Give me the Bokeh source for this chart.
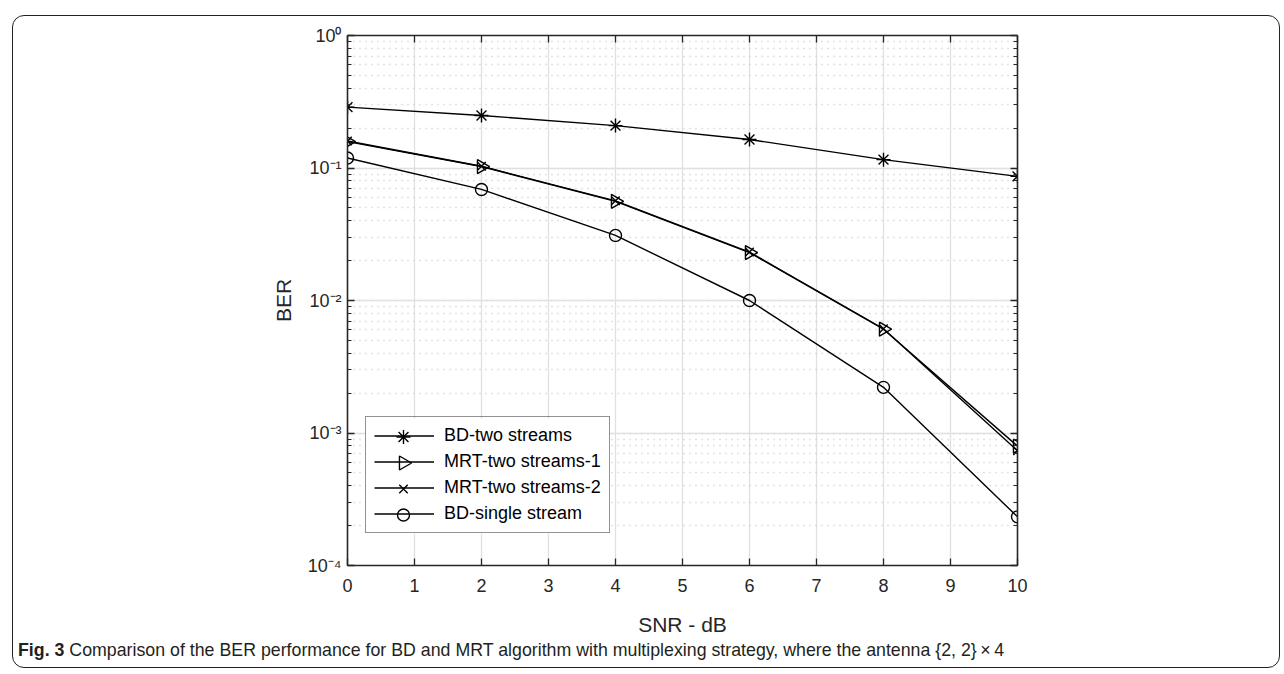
import math
from bokeh.plotting import figure
from bokeh.layouts import column
from bokeh.models import (Range1d, LinearAxis, LogAxis, SingleIntervalTicker, LogTicker,
                          CustomJSTickFormatter, Legend, LegendItem, Div, LinearScale)
from bokeh.embed import file_html
from bokeh.resources import INLINE

snr = [0, 2, 4, 6, 8, 10]
bd_two = [0.288, 0.249, 0.209, 0.164, 0.1156, 0.0865]
mrt_two_1 = [0.158, 0.1026, 0.056, 0.0230, 0.00607, 0.000796]
mrt_two_2 = [0.160, 0.1030, 0.0565, 0.0232, 0.00612, 0.000734]
bd_single = [0.119, 0.0689, 0.031, 0.0100, 0.00221, 0.000233]

names = ["BD-two streams", "MRT-two streams-1", "MRT-two streams-2", "BD-single stream"]
caption_bold = "Fig. 3"
caption_text = "Comparison of the BER performance for BD and MRT algorithm with multiplexing strategy, where the antenna {2, 2}&thinsp;&times;&thinsp;4"

FONT = "Liberation Sans"
AX = "#262626"

W, H = 1284, 674
FIG_H = 642
L, R, T, B = 347, 1017, 35, 565

p = figure(width=W, height=FIG_H, output_backend="svg", toolbar_location=None,
           x_range=Range1d(0, 10), y_range=Range1d(1e-4, 1), y_axis_type="log",
           min_border_left=L, min_border_right=W - R, min_border_top=T,
           min_border_bottom=FIG_H - B,
           background_fill_color="white", border_fill_color="white", x_axis_location=None,
           y_axis_location=None)
p.outline_line_color = None
# pixel-like helper ranges for the legend background and sample markers
p.extra_x_ranges = {"px": Range1d(0, R - L)}
p.extra_y_ranges = {"py": Range1d(0, B - T)}
p.extra_x_scales = {"px": LinearScale()}
p.extra_y_scales = {"py": LinearScale()}

sup = CustomJSTickFormatter(code="""
const e = Math.round(Math.log10(tick));
const m = {'-':'\u207b','0':'\u2070','1':'\u00b9','2':'\u00b2','3':'\u00b3','4':'\u2074','5':'\u2075'};
return '10' + String(e).split('').map(c => m[c]).join('');
""")

def style_axis(ax, labels=True):
    ax.axis_line_color = AX
    ax.axis_line_width = 1.6
    ax.major_tick_line_color = AX
    ax.minor_tick_line_color = AX
    ax.major_tick_line_width = 1.3
    ax.minor_tick_line_width = 1.0
    ax.major_tick_in = 7
    ax.major_tick_out = 0
    ax.minor_tick_in = 4
    ax.minor_tick_out = 0
    ax.major_label_text_font = FONT
    ax.major_label_text_font_size = "18px"
    ax.major_label_text_color = AX
    ax.axis_label_text_font = FONT
    ax.axis_label_text_font_style = "normal"
    ax.axis_label_text_font_size = "21px"
    ax.axis_label_text_color = AX
    if not labels:
        ax.major_label_text_font_size = "0px"
        ax.major_label_text_alpha = 0

xt = SingleIntervalTicker(interval=1, num_minor_ticks=0)
yt = LogTicker(num_minor_ticks=10)

xb = LinearAxis(ticker=xt, axis_label="SNR - dB")
style_axis(xb)
xb.major_label_standoff = 13
xb.axis_label_standoff = 18
p.add_layout(xb, "below")
xa = LinearAxis(ticker=xt)
style_axis(xa, labels=False)
p.add_layout(xa, "above")

yl = LogAxis(ticker=yt, formatter=sup, axis_label="BER")
style_axis(yl)
yl.major_label_standoff = 6
yl.axis_label_standoff = 10
p.add_layout(yl, "left")
yr = LogAxis(ticker=yt)
style_axis(yr, labels=False)
p.add_layout(yr, "right")

p.xgrid.ticker = xt
p.ygrid.ticker = yt
p.xgrid.grid_line_color = "#e0e0e0"
p.xgrid.grid_line_width = 1.3
p.ygrid.grid_line_color = "#e0e0e0"
p.ygrid.grid_line_width = 1.3
p.ygrid.minor_grid_line_color = "#c4c4c4"
p.ygrid.minor_grid_line_dash = "1 5"
p.ygrid.minor_grid_line_width = 1.3

LW = 1.4
TRI = -math.pi / 2
series = [bd_two, mrt_two_1, mrt_two_2, bd_single]
mstyle = [
    dict(marker="asterisk", size=14),
    dict(marker="triangle", angle=TRI, size=14, fill_color=None),
    dict(marker="x", size=12),
    dict(marker="circle", size=12, fill_color=None),
]

LEG_X, LEG_Y, PAD, GW, ROW, SP, LEG_W = 18, 32, 8, 60, 21, 5, 262
LEG_H = 2 * PAD + 4 * ROW + 3 * SP

lines = []
for ys in series:
    lines.append(p.line(snr, ys, line_color="black", line_width=LW))
for ys, ms in zip(series, mstyle):
    p.scatter(snr, ys, line_color="black", line_width=LW, **ms)

# white legend background, then legend sample markers (Bokeh legends ignore marker angle)
p.quad(left=[LEG_X], right=[LEG_W], bottom=[LEG_Y], top=[LEG_Y + LEG_H],
       x_range_name="px", y_range_name="py", fill_color="white", line_color=None,
       level="overlay")
items = []
for i, ms in enumerate(mstyle):
    items.append(LegendItem(label=names[i], renderers=[lines[i]]))
    lx = LEG_X + PAD + GW / 2
    ly = LEG_Y + PAD + (len(series) - 1 - i) * (ROW + SP) + ROW / 2
    p.scatter([lx], [ly], x_range_name="px", y_range_name="py", line_color="black",
              line_width=LW, level="overlay", **ms)

leg = Legend(items=items, location=(LEG_X, LEG_Y), glyph_width=GW, glyph_height=ROW,
             label_height=ROW, label_text_font=FONT, label_text_font_size="18px",
             label_text_color="black", label_standoff=10, spacing=SP, padding=PAD, margin=0,
             border_line_color=AX, border_line_width=1.2, background_fill_alpha=0)
p.add_layout(leg, "center")

cap_html = (
    '<div style="position:absolute;left:7px;top:%dpx;width:1268px;height:653px;'
    'border:1.6px solid #222;border-radius:12px;pointer-events:none;box-sizing:border-box;"></div>'
    '<div style="position:absolute;left:13px;top:-11px;white-space:nowrap;'
    "font-family:'Liberation Sans',sans-serif;font-size:19px;transform:scaleX(0.935);"
    'transform-origin:left center;color:#231f20;"><b>%s</b> %s</div>'
) % (10 - FIG_H, caption_bold, caption_text)
cap = Div(text=cap_html, width=W, height=H - FIG_H,
          styles={"position": "relative", "overflow": "visible"})

layout = column(p, cap, spacing=0)
open("out.html", "w").write(file_html(layout, INLINE))
